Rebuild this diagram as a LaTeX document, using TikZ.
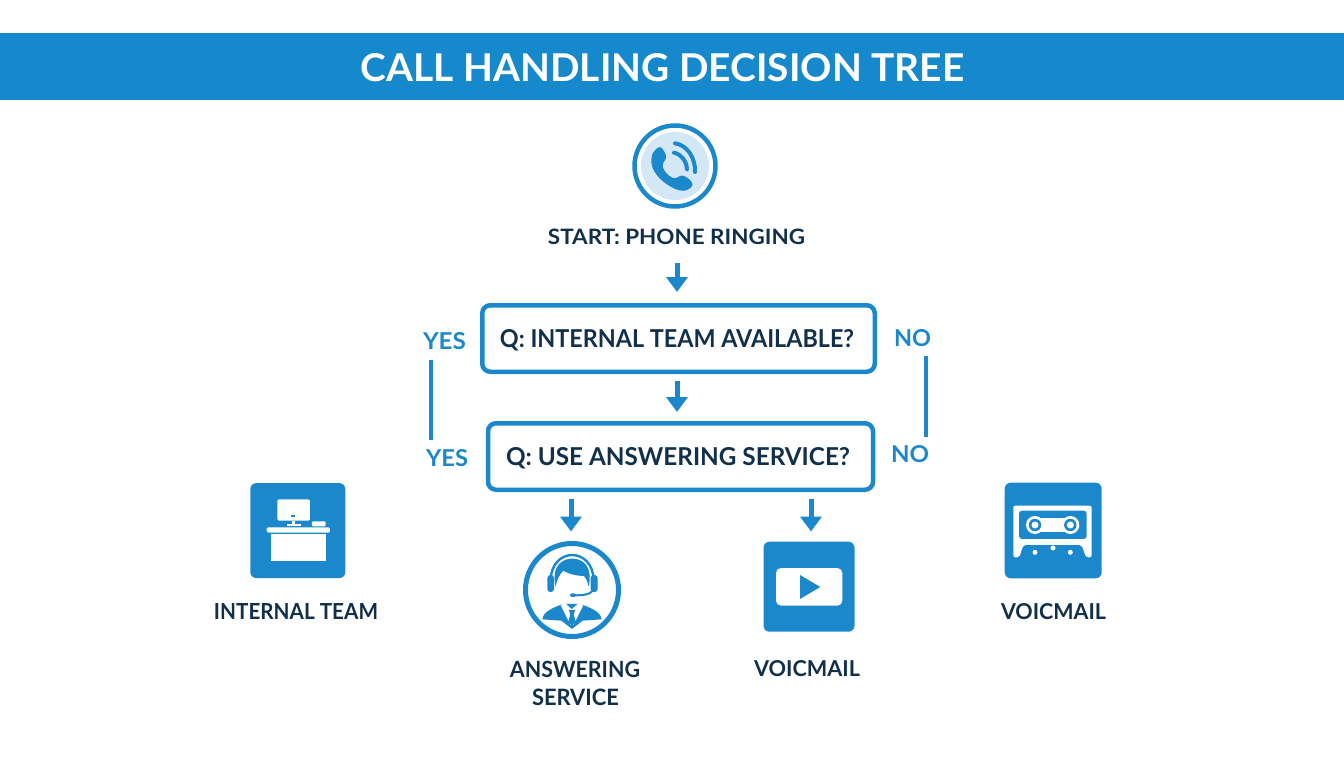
\documentclass[tikz,border=0pt]{standalone}
\usepackage{fontspec}
\usepackage{graphicx}
\setmainfont{Lato}
\usetikzlibrary{arrows.meta,calc}
\definecolor{blu}{HTML}{1C88CC}
\definecolor{band}{HTML}{1589CB}
\definecolor{ink}{HTML}{12304A}
\definecolor{pale}{HTML}{D3E7F5}
\newcommand{\fit}[3]{\raisebox{0pt}[#2pt][0pt]{\resizebox{#1pt}{#2pt}{\bfseries #3}}}
\tikzset{
  lab/.style={inner sep=0pt,text=ink},
  ylab/.style={inner sep=0pt,text=blu},
  qbox/.style={draw=blu,line width=4.5pt,rounded corners=8pt,fill=white,inner sep=0pt,text=ink},
  arr/.style={draw=blu,line width=5pt,-{Triangle[width=21pt,length=15pt]}},
  rule/.style={draw=blu,line width=3.8pt},
  tile/.style={fill=blu,rounded corners=6pt,inner sep=0pt},
  ring/.style={circle,draw=blu,inner sep=0pt},
  icon/.style={shift={(#1)},x=0.3333pt,y=-0.3333pt}
}
\begin{document}
\begin{tikzpicture}[x=1pt,y=-1pt]
\useasboundingbox (0,0) rectangle (1344,768);
\fill[white] (0,0) rectangle (1344,768);
% header
\node[fill=band,minimum width=1344pt,minimum height=67pt,inner sep=0pt] (head) at (672,66.5) {};
\node[inner sep=0pt,text=white] (title) at (662.5,67.5) {\fit{603}{28}{CALL HANDLING DECISION TREE}};
% start
\node[ring,fill=white,line width=4.5pt,minimum size=81pt] (phone) at (675,166) {};
\node[circle,fill=pale,minimum size=68pt,inner sep=0pt] (disc) at (675,166) {};
\begin{scope}[icon={600,110}]
\fill[blu,rounded corners=3pt] (158,128) -- (178,108) -- (190,118) -- (201,143) -- (186,163) .. controls (192,183) and (205,198) .. (226,207) -- (245,194) -- (270,208) -- (281,226) -- (262,241) .. controls (225,246) and (150,200) .. (155,140) -- cycle;
\draw[blu,line width=4pt,line cap=round] (222,128) .. controls (245,133) and (260,155) .. (261,178);
\draw[blu,line width=4pt,line cap=round] (225,100) .. controls (262,105) and (287,145) .. (285,186);
\end{scope}
\node[lab] (start) at (676.5,236.7) {\fit{257}{15.5}{START: PHONE RINGING}};
% questions
\node[qbox,minimum width=392.5pt,minimum height=66.5pt] (q1) at (678.5,338.5) {\kern-3pt\fit{354}{18}{Q: INTERNAL TEAM AVAILABLE?}};
\node[qbox,minimum width=385pt,minimum height=66.5pt] (q2) at (680.5,456.5) {\kern-5pt\fit{344}{18}{Q: USE ANSWERING SERVICE?}};
% yes / no
\node[ylab] (y1) at (444.5,341) {\fit{43}{17}{YES}};
\node[ylab] (y2) at (447,458) {\fit{42}{17}{YES}};
\node[ylab] (n1) at (912.5,338) {\fit{37}{17}{NO}};
\node[ylab] (n2) at (910,454) {\fit{38}{17}{NO}};
\draw[rule] ([xshift=-13.5pt,yshift=-10.5pt]y1.south) -- ([xshift=-16pt,yshift=9.5pt]y2.north);
\draw[rule] ([xshift=13.5pt,yshift=-9.5pt]n1.south) -- ([xshift=16pt,yshift=8.5pt]n2.north);
% outcome tiles
\node[tile,minimum size=95pt] (desk) at (297.8,530.6) {};
\begin{scope}[icon={230,470}]
\fill[white,rounded corners=2pt] (142,88) rectangle (240,152);
\fill[blu] (183,134) rectangle (196,140);
\fill[white] (187,152) rectangle (195,164);
\fill[white] (170,163) rectangle (212,169);
\fill[white,rounded corners=1pt] (246,154) rectangle (287,169);
\fill[white,rounded corners=1.5pt] (110,172) rectangle (300,188);
\fill[white] (123,193) rectangle (287,272);
\end{scope}
\node[lab] (ldesk) at (296,611) {\fit{164}{16}{INTERNAL TEAM}};
\node[ring,fill=white,line width=5pt,minimum size=93pt] (ans) at (572,590) {};
\begin{scope}[icon={510,530}]
\draw[blu,line width=2.4pt] (122,150) .. controls (125,50) and (248,50) .. (251,150);
\fill[blu,rounded corners=3pt] (112,135) rectangle (132,186);
\fill[blu,rounded corners=3pt] (242,135) rectangle (263,186);
\fill[blu] (137,170) .. controls (122,105) and (160,84) .. (190,86) .. controls (225,88) and (248,115) .. (236,170) .. controls (232,152) and (228,144) .. (222,138) .. controls (200,138) and (175,132) .. (160,122) .. controls (150,132) and (140,148) .. (137,170) -- cycle;
\draw[blu,line width=2pt,line cap=round] (248,182) .. controls (240,195) and (215,196) .. (192,196);
\fill[blu,rounded corners=2pt] (180,190) rectangle (198,201);
\fill[blu] (97,268) .. controls (100,245) and (125,235) .. (158,222) -- (212,222) .. controls (245,235) and (272,245) .. (275,268) -- (218,272) -- (186,297) -- (154,272) -- cycle;
\fill[white] (152,226) -- (164,218) -- (185,238) -- (208,218) -- (220,226) -- (190,285) -- (182,285) -- cycle;
\fill[blu] (176,240) -- (196,240) -- (191,252) -- (197,276) -- (186,287) -- (175,276) -- (181,252) -- cycle;
\end{scope}
\node[lab] (lans1) at (575,669) {\fit{130}{16.3}{ANSWERING}};
\node[lab] (lans2) at (575.5,697) {\fit{87}{16.5}{SERVICE}};
\node[tile,minimum width=91pt,minimum height=90pt] (play) at (809,586.7) {};
\begin{scope}[icon={750,530}]
\fill[white,rounded corners=5pt] (78,114) rectangle (277,227);
\fill[blu] (150,135) -- (211,171) -- (150,207) -- cycle;
\end{scope}
\node[lab] (lplay) at (807,668) {\fit{106}{16}{VOICMAIL}};
\node[tile,minimum width=97pt,minimum height=95.6pt] (tape) at (1053.2,530.5) {};
\begin{scope}[icon={990,470}]
\fill[white,rounded corners=2pt] (70,107) -- (305,107) -- (305,262) -- (288,262) -- (275,225) -- (100,225) -- (88,262) -- (70,262) -- cycle;
\fill[blu,rounded corners=3pt] (87,122) rectangle (290,207);
\fill[white] (135,143) rectangle (241,187);
\fill[white] (135,165) circle (9pt);
\fill[white] (241,165) circle (9pt);
\fill[blu] (135,165) circle (6.2pt);
\fill[blu] (241,165) circle (6.2pt);
\fill[white] (135,165) circle (3.5pt);
\fill[white] (241,165) circle (3.5pt);
\fill[white] (135,247) circle (2.5pt);
\fill[white] (189,234) circle (2.5pt);
\fill[white] (241,247) circle (2.5pt);
\end{scope}
\node[lab] (ltape) at (1053.5,611) {\fit{105}{16}{VOICMAIL}};
% arrows
\draw[arr,shorten <=18.5pt,shorten >=11pt] ([xshift=-1.5pt]start.south -| q1.north) -- ([xshift=-1.5pt]q1.north);
\draw[arr,shorten <=6.5pt,shorten >=9pt] ([xshift=-1.5pt]q1.south) -- ([xshift=-3.5pt]q2.north);
\draw[arr,shorten <=6.5pt] ([xshift=-1pt]q2.south -| ans.north) -- ([xshift=-1pt,yshift=9.5pt]ans.north);
\draw[arr,shorten <=6.5pt] ([xshift=2pt]q2.south -| play.north) -- ([xshift=2pt,yshift=10pt]play.north);
\end{tikzpicture}
\end{document}
